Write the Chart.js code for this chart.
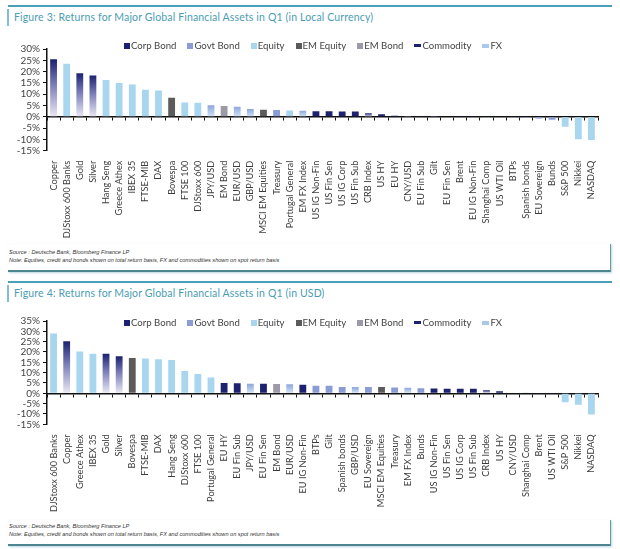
<!DOCTYPE html>
<html>
<head>
<meta charset="utf-8">
<script src="https://cdn.jsdelivr.net/npm/chart.js@4.4.1/dist/chart.umd.min.js"></script>
<style>
  body { margin: 0; width: 620px; height: 549px; background: #fff; position: relative; overflow: hidden; font-family: Lato, "Open Sans", sans-serif; }
  .topline { position: absolute; left: 8px; width: 604px; height: 2px; background: #4d9fb5; }
  .sidebar { position: absolute; left: 7px; width: 2px; height: 17px; background: #7fbfcf; }
  .title { position: absolute; left: 14px; font-size: 10.5px; color: #4a9db3; letter-spacing: 0.15px; }
  .box { position: absolute; left: 8px; width: 602px; border-right: 1.5px solid #6d98a3; border-bottom: 2px solid #4e8593; box-shadow: 1px 1px 2px #b9d6dd; }
  .src { position: absolute; left: 9px; font-size: 5.6px; font-style: italic; color: #333; font-family: "Liberation Sans", sans-serif; white-space: nowrap; }
  .chartbox { position: absolute; left: 0; width: 620px; height: 200px; }
  .legend { position: absolute; left: 124px; font-size: 9.6px; color: #444; white-space: nowrap; }
  .legend span { margin-right: 11px; }
  .legend i { display: inline-block; margin-right: 1px; vertical-align: middle; position: relative; top: -1px; }
</style>
</head>
<body>
<div class="topline" style="top:5px"></div>
<div class="sidebar" style="top:9px"></div>
<div class="title" style="top:11px">Figure 3: Returns for Major Global Financial Assets in Q1 (in Local Currency)</div>
<div class="chartbox" style="top:40px"><canvas id="chartLocal"></canvas></div>
<div class="legend" style="top:40px" id="legend1"></div>
<div class="box" style="top:244px;height:26px"></div>
<div class="src" style="top:249px">Source : Deutsche Bank, Bloomberg Finance LP</div>
<div class="src" style="top:257px">Note: Equities, credit and bonds shown on total return basis, FX and commodities shown on spot return basis</div>

<div class="topline" style="top:281px"></div>
<div class="sidebar" style="top:285px"></div>
<div class="title" style="top:287px">Figure 4: Returns for Major Global Financial Assets in Q1 (in USD)</div>
<div class="chartbox" style="top:312px"><canvas id="chartUsd"></canvas></div>
<div class="legend" style="top:317px" id="legend2"></div>
<div class="box" style="top:520px;height:24px"></div>
<div class="src" style="top:523px">Source : Deutsche Bank, Bloomberg Finance LP</div>
<div class="src" style="top:531px">Note: Equities, credit and bonds shown on total return basis, FX and commodities shown on spot return basis</div>

<script>
// asset groups
const corpBond = ['US IG Non-Fin', 'US Fin Sen', 'US IG Corp', 'US Fin Sub', 'US HY', 'EU HY', 'EU Fin Sub', 'EU Fin Sen', 'EU IG Non-Fin'];
const govtBond = ['Treasury', 'Gilt', 'BTPs', 'Spanish bonds', 'EU Sovereign', 'Bunds'];
const emEquity = ['Bovespa', 'MSCI EM Equities'];
const emBond = ['EM Bond'];
const commodity = ['Copper', 'Gold', 'Silver', 'CRB Index', 'Brent', 'US WTI Oil'];
const fx = ['JPY/USD', 'EUR/USD', 'GBP/USD', 'EM FX Index', 'CNY/USD'];
// everything else is Equity

const legendNames = ['Corp Bond', 'Govt Bond', 'Equity', 'EM Equity', 'EM Bond', 'Commodity', 'FX'];

// Figure 3 - local currency
const labelsLocal = ['Copper', 'DJStoxx 600 Banks', 'Gold', 'Silver', 'Hang Seng', 'Greece Athex', 'IBEX 35', 'FTSE-MIB', 'DAX', 'Bovespa',
  'FTSE 100', 'DJStoxx 600', 'JPY/USD', 'EM Bond', 'EUR/USD', 'GBP/USD', 'MSCI EM Equities', 'Treasury', 'Portugal General', 'EM FX Index',
  'US IG Non-Fin', 'US Fin Sen', 'US IG Corp', 'US Fin Sub', 'CRB Index', 'US HY', 'EU HY', 'CNY/USD', 'EU Fin Sub', 'Gilt',
  'EU Fin Sen', 'Brent', 'EU IG Non-Fin', 'Shanghai Comp', 'US WTI Oil', 'BTPs', 'Spanish bonds', 'EU Sovereign', 'Bunds', 'S&P 500',
  'Nikkei', 'NASDAQ'];
const valuesLocal = [25.5, 23.5, 19.3, 18.3, 16.3, 15.0, 14.3, 12.0, 11.6, 8.4,
  6.3, 6.2, 5.1, 4.8, 4.5, 3.4, 3.1, 3.0, 2.8, 2.7,
  2.5, 2.5, 2.4, 2.4, 1.6, 1.1, 0.5, 0.4, 0.3, 0.3,
  0.2, 0.1, 0.1, -0.1, -0.2, -0.3, -0.4, -0.8, -1.3, -4.4,
  -9.9, -10.3];

// Figure 4 - USD
const labelsUsd = ['DJStoxx 600 Banks', 'Copper', 'Greece Athex', 'IBEX 35', 'Gold', 'Silver', 'Bovespa', 'FTSE-MIB', 'DAX', 'Hang Seng',
  'DJStoxx 600', 'FTSE 100', 'Portugal General', 'EU HY', 'EU Fin Sub', 'JPY/USD', 'EU Fin Sen', 'EM Bond', 'EUR/USD', 'EU IG Non-Fin',
  'BTPs', 'Gilt', 'Spanish bonds', 'GBP/USD', 'EU Sovereign', 'MSCI EM Equities', 'Treasury', 'EM FX Index', 'Bunds', 'US IG Non-Fin',
  'US Fin Sen', 'US IG Corp', 'US Fin Sub', 'CRB Index', 'US HY', 'CNY/USD', 'Shanghai Comp', 'Brent', 'US WTI Oil', 'S&P 500',
  'Nikkei', 'NASDAQ'];
const valuesUsd = [29.0, 25.2, 20.2, 19.2, 19.1, 17.9, 17.1, 16.8, 16.5, 16.1,
  10.8, 9.4, 7.7, 5.0, 4.9, 4.6, 4.6, 4.5, 4.4, 4.2,
  3.7, 3.6, 3.1, 3.0, 3.0, 3.0, 2.8, 2.7, 2.5, 2.3,
  2.2, 2.2, 2.2, 1.5, 1.0, 0.3, 0.1, -0.1, -0.3, -4.3,
  -5.5, -10.2];

const colors = {
  'Corp Bond': '#1c2170',
  'Govt Bond': '#8a9bd6',
  'Equity': '#a8d6ef',
  'EM Equity': '#5b5b5b',
  'EM Bond': '#9c9aa6',
  'Commodity': '#1c2170',
  'FX': '#a9bde8'
};

function typeOf(name) {
  if (corpBond.includes(name)) return 'Corp Bond';
  if (govtBond.includes(name)) return 'Govt Bond';
  if (emEquity.includes(name)) return 'EM Equity';
  if (emBond.includes(name)) return 'EM Bond';
  if (commodity.includes(name)) return 'Commodity';
  if (fx.includes(name)) return 'FX';
  return 'Equity';
}

function barColor(labels) {
  return function(ctx) {
    const t = typeOf(labels[ctx.dataIndex]);
    const chart = ctx.chart;
    const y = chart.scales.y;
    if ((t === 'Commodity' || t === 'FX') && chart.chartArea && y) {
      const top = y.getPixelForValue(ctx.raw);
      const base = y.getPixelForValue(0);
      if (Math.abs(base - top) < 1) return colors[t];
      const g = chart.ctx.createLinearGradient(0, top, 0, base);
      if (t === 'Commodity') {
        g.addColorStop(0, '#1c2170');
        g.addColorStop(0.45, '#7c7fb8');
        g.addColorStop(1, '#ebe8f4');
      } else {
        g.addColorStop(0, '#8ea6dd');
        g.addColorStop(1, '#cfe4f5');
      }
      return g;
    }
    return colors[t];
  };
}

const tickFont = { family: 'Lato', size: 9.2 };

function makeChart(id, labels, values, yMax, padTop, xHeight) {
  const ctx = document.getElementById(id).getContext('2d');
  return new Chart(ctx, {
    type: 'bar',
    data: {
      labels: labels,
      datasets: [{
        data: values,
        backgroundColor: barColor(labels),
        barPercentage: 0.52,
        categoryPercentage: 1
      }]
    },
    options: {
      responsive: true,
      maintainAspectRatio: false,
      animation: false,
      layout: { padding: { top: padTop, right: 22, left: 0, bottom: 0 } },
      plugins: { legend: { display: false }, tooltip: { enabled: false } },
      scales: {
        x: {
          ticks: { minRotation: 90, maxRotation: 90, autoSkip: false, font: tickFont, color: '#3c3c3c', padding: 2 },
          grid: { display: false },
          border: { display: false },
          afterFit: a => { a.height = xHeight; }
        },
        x0: {
          type: 'category',
          position: { y: 0 },
          offset: true,
          ticks: { display: false },
          grid: { offset: true, drawOnChartArea: false, tickLength: 3, color: '#111' },
          border: { color: '#111', width: 1.5 }
        },
        y: {
          min: -15,
          max: yMax,
          ticks: { stepSize: 5, autoSkip: false, callback: v => v + '%', font: { family: 'Lato', size: 10 }, color: '#444', padding: 3 },
          grid: { drawOnChartArea: false, tickLength: 4, color: '#111' },
          border: { color: '#111', width: 1.5 },
          afterFit: a => { a.width = 47; }
        }
      }
    }
  });
}

function buildLegend(elId) {
  const el = document.getElementById(elId);
  legendNames.forEach(name => {
    const s = document.createElement('span');
    const m = document.createElement('i');
    let w = 6, h = 6, bg = colors[name];
    if (name === 'Commodity') { w = 7; h = 3; }
    if (name === 'FX') { w = 7; h = 4; bg = '#a9c8ea'; }
    m.style.width = w + 'px';
    m.style.height = h + 'px';
    m.style.background = bg;
    s.appendChild(m);
    s.appendChild(document.createTextNode(name));
    el.appendChild(s);
  });
}

buildLegend('legend1');
buildLegend('legend2');
makeChart('chartLocal', labelsLocal, valuesLocal, 30, 5, 89.3);
makeChart('chartUsd', labelsUsd, valuesUsd, 35, 7, 87.7);
</script>
</body>
</html>
